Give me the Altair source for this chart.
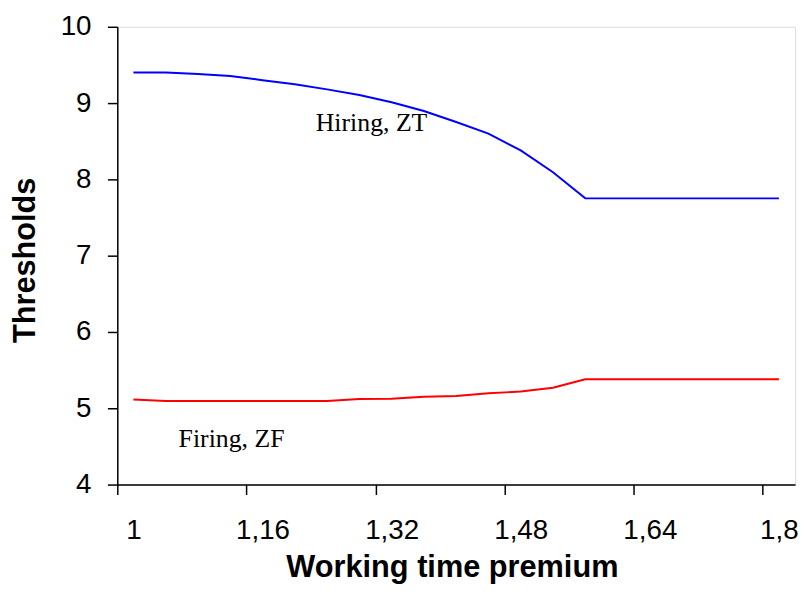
import altair as alt
import pandas as pd

# Working time premium categories (step 0.04)
premium = [1.00, 1.04, 1.08, 1.12, 1.16, 1.20, 1.24, 1.28, 1.32, 1.36, 1.40,
           1.44, 1.48, 1.52, 1.56, 1.60, 1.64, 1.68, 1.72, 1.76, 1.80]
hiring_zt = [9.40, 9.40, 9.38, 9.355, 9.30, 9.247, 9.18, 9.105, 9.01, 8.897, 8.752,
             8.599, 8.379, 8.094, 7.751, 7.751, 7.751, 7.751, 7.751, 7.751, 7.751]
firing_zf = [5.116, 5.095, 5.095, 5.095, 5.095, 5.095, 5.095, 5.121, 5.125, 5.151, 5.162,
             5.197, 5.219, 5.27, 5.381, 5.381, 5.381, 5.381, 5.381, 5.381, 5.381]

series_names = ["Hiring, ZT", "Firing, ZF"]
series_colors = ["#0000FF", "#FF0000"]

x_tick_values = [1.00, 1.16, 1.32, 1.48, 1.64, 1.80]
y_tick_values = [4, 5, 6, 7, 8, 9, 10]

label_text = ["Hiring, ZT", "Firing, ZF"]
label_x = [1.226, 1.056]
label_y = [8.64, 4.486]

rows = []
for p, h, f in zip(premium, hiring_zt, firing_zf):
    rows.append({"premium": p, "value": h, "series": series_names[0]})
    rows.append({"premium": p, "value": f, "series": series_names[1]})
df = pd.DataFrame(rows)
labels_df = pd.DataFrame({"text": label_text, "x": label_x, "y": label_y})

x_scale = alt.Scale(domain=[0.98, 1.82], nice=False, zero=False)
y_scale = alt.Scale(domain=[4, 10], nice=False, zero=False)

lines = alt.Chart(df).mark_line(strokeWidth=2).encode(
    x=alt.X("premium:Q", scale=x_scale,
            axis=alt.Axis(values=x_tick_values, grid=False,
                          title="Working time premium",
                          tickSize=10, tickWidth=1.5, tickColor="black",
                          domainColor="black", domainWidth=1.5,
                          tickOffset=-16.29, labelOffset=16.29,
                          labelExpr="replace(format(datum.value, '.2~f'), '.', ',')",
                          labelFont="Liberation Sans", labelFontSize=28,
                          labelColor="black", labelBaseline="alphabetic",
                          labelPadding=44.3, labelFlush=False, labelOverlap=False,
                          titleFont="Liberation Sans", titleFontSize=31,
                          titleFontWeight="bold", titleColor="black",
                          titleBaseline="alphabetic", titleAlign="center",
                          titleX=337.7, titleY=93)),
    y=alt.Y("value:Q", scale=y_scale,
            axis=alt.Axis(values=y_tick_values, grid=False, title="Thresholds",
                          format="d",
                          tickSize=10, tickWidth=1.5, tickColor="black",
                          domainColor="black", domainWidth=1.5,
                          labelFont="Liberation Sans", labelFontSize=28,
                          labelColor="black", labelPadding=16.5,
                          labelFlush=False, labelOverlap=False,
                          titleFont="Liberation Sans", titleFontSize=31,
                          titleFontWeight="bold", titleColor="black",
                          titleAngle=270, titleBaseline="alphabetic",
                          titleAlign="center", titleX=-83.3, titleY=235.2)),
    color=alt.Color("series:N", scale=alt.Scale(domain=series_names, range=series_colors),
                    legend=None),
    detail="series:N",
)

texts = alt.Chart(labels_df).mark_text(
    font="Liberation Serif", fontSize=26, align="left", baseline="alphabetic",
    color="black"
).encode(
    x=alt.X("x:Q", scale=x_scale),
    y=alt.Y("y:Q", scale=y_scale),
    text="text:N",
)

chart = alt.layer(lines, texts).properties(
    width=684, height=462,
    autosize=alt.AutoSizeParams(type="none"),
    padding={"left": 110.3, "top": 16.3, "right": 5, "bottom": 100},
).configure_view(
    stroke="#8c8c8c", strokeWidth=1.5
).configure(background="white")

chart.save("out.html", embed_options={"renderer": "svg", "actions": False})
